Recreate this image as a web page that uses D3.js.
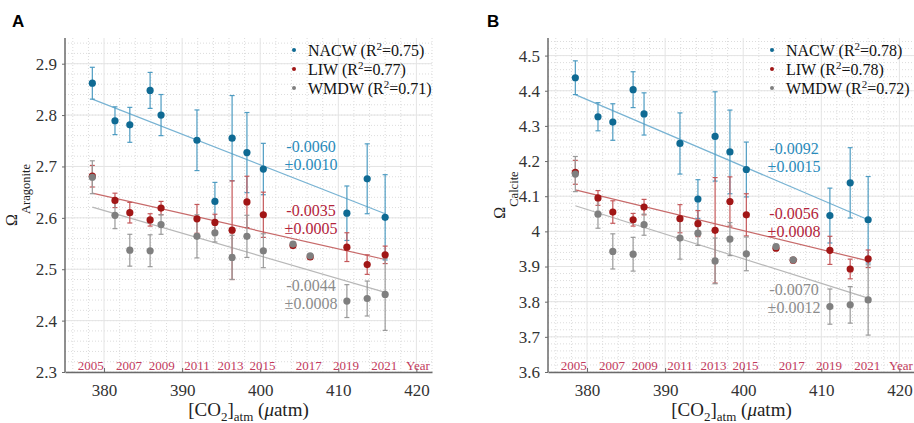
<!DOCTYPE html>
<html>
<head>
<meta charset="utf-8">
<script src="https://cdn.jsdelivr.net/npm/d3@7"></script>
<style>
body { margin: 0; background: #fff; }
text { font-family: "Liberation Serif", "Times New Roman", serif; }
</style>
</head>
<body>
<svg id="drawing_region"></svg>
<script>
// atmospheric CO2 of each cruise (uatm), shared by both panels
const co2 = [378.5, 381.4, 383.3, 385.9, 387.3, 391.9, 394.2, 396.4, 398.3, 400.4, 404.2, 406.4, 411.1, 413.7, 416.0];
const yearLabels = ['2005', '2007', '2009', '2011', '2013', '2015', '2017', '2019', '2021', 'Year'];
const yearCo2 = [378.3, 383.2, 387.4, 391.9, 396.2, 400.3, 406.2, 411.0, 415.9, 420.2];
const seriesNames = ['NACW', 'LIW', 'WMDW'];
const fitCo2 = [378.5, 416.0];

// panel A: aragonite saturation
const aragNACW = [2.862, 2.789, 2.781, 2.848, 2.800, 2.751, 2.632, 2.755, 2.727, 2.695, null, null, 2.609, 2.676, 2.601];
const aragNACWErr = [0.031, 0.027, 0.034, 0.035, 0.040, 0.059, 0.037, 0.083, 0.078, 0.050, null, null, 0.053, 0.068, 0.083];
const aragLIW = [2.681, 2.634, 2.610, 2.596, 2.619, 2.598, 2.591, 2.576, 2.631, 2.606, 2.546, 2.524, 2.543, 2.509, 2.528];
const aragLIWErr = [0.021, 0.014, 0.020, 0.012, 0.013, 0.028, 0.016, 0.096, 0.050, 0.044, 0.004, 0.004, 0.028, 0.019, 0.017];
const aragWMDW = [2.679, 2.605, 2.537, 2.536, 2.587, 2.564, 2.571, 2.523, 2.564, 2.536, 2.549, 2.526, 2.438, 2.443, 2.451];
const aragWMDWErr = [0.032, 0.026, 0.031, 0.031, 0.019, 0.042, 0.018, 0.043, 0.041, 0.033, 0.004, 0.004, 0.032, 0.034, 0.070];
const aragFits = [[2.831, 2.608], [2.648, 2.519], [2.621, 2.455]];
const aragR2 = ['0.75', '0.77', '0.71'];
const aragSlopes = [['-0.0060', '±0.0010'], ['-0.0035', '±0.0005'], ['-0.0044', '±0.0008']];
const aragTicks = [2.3, 2.4, 2.5, 2.6, 2.7, 2.8, 2.9];

// panel B: calcite saturation
const calcNACW = [4.437, 4.326, 4.311, 4.403, 4.334, 4.250, 4.092, 4.270, 4.226, 4.176, null, null, 4.045, 4.138, 4.033];
const calcNACWErr = [0.048, 0.040, 0.052, 0.051, 0.060, 0.087, 0.055, 0.127, 0.119, 0.078, null, null, 0.078, 0.100, 0.123];
const calcLIW = [4.168, 4.095, 4.055, 4.033, 4.069, 4.036, 4.022, 4.003, 4.085, 4.047, 3.952, 3.918, 3.946, 3.893, 3.922];
const calcLIWErr = [0.034, 0.021, 0.032, 0.018, 0.022, 0.040, 0.037, 0.150, 0.070, 0.060, 0.006, 0.006, 0.040, 0.028, 0.025];
const calcWMDW = [4.163, 4.049, 3.943, 3.935, 4.019, 3.981, 3.995, 3.916, 3.978, 3.936, 3.957, 3.919, 3.786, 3.791, 3.805];
const calcWMDWErr = [0.050, 0.040, 0.050, 0.048, 0.030, 0.060, 0.035, 0.065, 0.047, 0.048, 0.006, 0.006, 0.050, 0.052, 0.100];
const calcFits = [[4.389, 4.033], [4.118, 3.916], [4.073, 3.810]];
const calcR2 = ['0.78', '0.78', '0.72'];
const calcSlopes = [['-0.0092', '±0.0015'], ['-0.0056', '±0.0008'], ['-0.0070', '±0.0012']];
const calcTicks = [3.6, 3.7, 3.8, 3.9, 4, 4.1, 4.2, 4.3, 4.4, 4.5];

const dotColors = ['#0f6a93', '#a11616', '#7f7f7f'];
const barColors = ['#4e9cc2', '#c4585a', '#9a9a9a'];
const fitColors = ['#78b3d3', '#c76a6a', '#b8b8b8'];
const noteColors = ['#2a8bbb', '#b3243b', '#8c8c8c'];

const svg = d3.select('#drawing_region').attr('width', 914).attr('height', 423);

function drawPanel(cfg) {
  const xscale = d3.scaleLinear().domain([375, 422]).range([cfg.left, cfg.left + 367]);
  const yscale = d3.scaleLinear().domain(cfg.ydomain).range([372, 38]);
  const g = svg.append('g');

  // minor grid
  const xMinor = d3.range(376, 422.01, 2).filter(v => v % 10 != 0);
  const yMinor = d3.range(cfg.ydomain[0], cfg.ydomain[1] + 1e-9, 0.02);
  g.append('g').selectAll('line').data(xMinor).join('line')
    .attr('x1', d => xscale(d)).attr('x2', d => xscale(d)).attr('y1', 38).attr('y2', 372)
    .attr('stroke', '#dcdcdc').attr('stroke-dasharray', '1,2');
  g.append('g').selectAll('line').data(yMinor).join('line')
    .attr('x1', xscale(375)).attr('x2', xscale(422)).attr('y1', d => yscale(d)).attr('y2', d => yscale(d))
    .attr('stroke', '#dcdcdc').attr('stroke-dasharray', '1,2');
  // major grid
  g.append('g').selectAll('line').data([380, 390, 400, 410, 420]).join('line')
    .attr('x1', d => xscale(d)).attr('x2', d => xscale(d)).attr('y1', 38).attr('y2', 372)
    .attr('stroke', '#e4e4e4');
  g.append('g').selectAll('line').data(cfg.ticks).join('line')
    .attr('x1', xscale(375)).attr('x2', xscale(422)).attr('y1', d => yscale(d)).attr('y2', d => yscale(d))
    .attr('stroke', '#e4e4e4');

  // axes
  const xaxis = d3.axisBottom(xscale).tickValues([380, 390, 400, 410, 420]).tickSize(-4).tickSizeOuter(0).tickPadding(12);
  const yaxis = d3.axisLeft(yscale).tickValues(cfg.ticks).tickFormat(d => String(+d.toFixed(1))).tickSize(3).tickSizeOuter(0).tickPadding(5);
  const xg = g.append('g').attr('transform', 'translate(0,372)').call(xaxis);
  const yg = g.append('g').attr('transform', `translate(${cfg.left},0)`).call(yaxis);
  [xg, yg].forEach(a => {
    a.select('.domain').attr('stroke', '#6a6a6a').attr('stroke-width', 1.5);
    a.selectAll('.tick line').attr('stroke', '#6a6a6a');
    a.selectAll('.tick text').attr('font-size', 17).attr('fill', '#333');
  });
  yg.select('.domain').attr('d', `M0,372V38`);

  // year labels
  g.append('g').selectAll('text').data(yearLabels).join('text')
    .attr('x', (d, i) => xscale(yearCo2[i])).attr('y', 370)
    .attr('text-anchor', 'middle').attr('font-size', 13).attr('fill', '#c23a5c')
    .text(d => d);

  // regression lines
  cfg.fits.forEach((f, s) => {
    g.append('line')
      .attr('x1', xscale(fitCo2[0])).attr('y1', yscale(f[0]))
      .attr('x2', xscale(fitCo2[1])).attr('y2', yscale(f[1]))
      .attr('stroke', fitColors[s]).attr('stroke-width', 1.2);
  });

  // error bars and points
  cfg.series.forEach((ser, s) => {
    const pts = co2.map((c, i) => ({ x: c, y: ser.v[i], e: ser.e[i] })).filter(d => d.y != null);
    const eb = g.append('g').attr('stroke', barColors[s]).attr('stroke-width', 1.2);
    eb.selectAll('.stem').data(pts).join('line')
      .attr('x1', d => xscale(d.x)).attr('x2', d => xscale(d.x))
      .attr('y1', d => yscale(d.y - d.e)).attr('y2', d => yscale(d.y + d.e));
    eb.selectAll('.capt').data(pts).join('line')
      .attr('x1', d => xscale(d.x) - 2.5).attr('x2', d => xscale(d.x) + 2.5)
      .attr('y1', d => yscale(d.y + d.e)).attr('y2', d => yscale(d.y + d.e));
    eb.selectAll('.capb').data(pts).join('line')
      .attr('x1', d => xscale(d.x) - 2.5).attr('x2', d => xscale(d.x) + 2.5)
      .attr('y1', d => yscale(d.y - d.e)).attr('y2', d => yscale(d.y - d.e));
  });
  cfg.series.forEach((ser, s) => {
    const pts = co2.map((c, i) => ({ x: c, y: ser.v[i] })).filter(d => d.y != null);
    g.append('g').selectAll('circle').data(pts).join('circle')
      .attr('cx', d => xscale(d.x)).attr('cy', d => yscale(d.y)).attr('r', 3.6)
      .attr('fill', dotColors[s]);
  });

  // slope annotations
  cfg.slopes.forEach((t, s) => {
    const txt = g.append('text').attr('text-anchor', 'middle').attr('font-size', 16).attr('fill', noteColors[s]);
    txt.append('tspan').attr('x', cfg.noteX).attr('y', cfg.noteY[s]).text(t[0]);
    txt.append('tspan').attr('x', cfg.noteX).attr('y', cfg.noteY[s] + 17.5).text(t[1]);
  });

  // legend
  seriesNames.forEach((name, s) => {
    const y = 50 + s * 19;
    g.append('circle').attr('cx', cfg.legendX).attr('cy', y).attr('r', 2).attr('fill', dotColors[s]);
    const t = g.append('text').attr('x', cfg.legendX + 14).attr('y', y + 5.5).attr('font-size', 16).attr('fill', '#111');
    t.append('tspan').text(name + ' (R');
    t.append('tspan').attr('dy', -6).attr('font-size', 11).text('2');
    t.append('tspan').attr('dy', 6).text('=' + cfg.r2[s] + ')');
  });

  // axis titles
  const yt = g.append('text').attr('transform', `translate(${cfg.titleX},195) rotate(-90)`)
    .attr('text-anchor', 'middle').attr('fill', '#222');
  yt.append('tspan').attr('font-size', 16).text('Ω');
  yt.append('tspan').attr('dy', 12.5).attr('font-size', 12.5).text(cfg.ysub);

  const xt = g.append('text').attr('x', cfg.left + 183.5).attr('y', 416)
    .attr('text-anchor', 'middle').attr('font-size', 19).attr('fill', '#222');
  xt.append('tspan').text('[CO');
  xt.append('tspan').attr('dy', 5).attr('font-size', 13).text('2');
  xt.append('tspan').attr('dy', -5).text(']');
  xt.append('tspan').attr('dy', 5).attr('font-size', 13).text('atm');
  xt.append('tspan').attr('dy', -5).text(' (');
  xt.append('tspan').attr('font-style', 'italic').text('μ');
  xt.append('tspan').text('atm)');

  svg.append('text').attr('x', cfg.labelX).attr('y', 27)
    .style('font-family', '"Liberation Sans", Arial, sans-serif').style('font-weight', 'bold').style('font-size', '17px')
    .text(cfg.label);
}

drawPanel({
  label: 'A', labelX: 12, left: 65, ydomain: [2.3, 2.95], ticks: aragTicks, ysub: 'Aragonite', titleX: 17,
  series: [{ v: aragNACW, e: aragNACWErr }, { v: aragLIW, e: aragLIWErr }, { v: aragWMDW, e: aragWMDWErr }],
  fits: aragFits, r2: aragR2, slopes: aragSlopes, noteX: 311, noteY: [152, 216, 291], legendX: 294
});
drawPanel({
  label: 'B', labelX: 487, left: 548, ydomain: [3.6, 4.55], ticks: calcTicks, ysub: 'Calcite', titleX: 505,
  series: [{ v: calcNACW, e: calcNACWErr }, { v: calcLIW, e: calcLIWErr }, { v: calcWMDW, e: calcWMDWErr }],
  fits: calcFits, r2: calcR2, slopes: calcSlopes, noteX: 794, noteY: [154, 219, 295], legendX: 772
});
</script>
</body>
</html>
